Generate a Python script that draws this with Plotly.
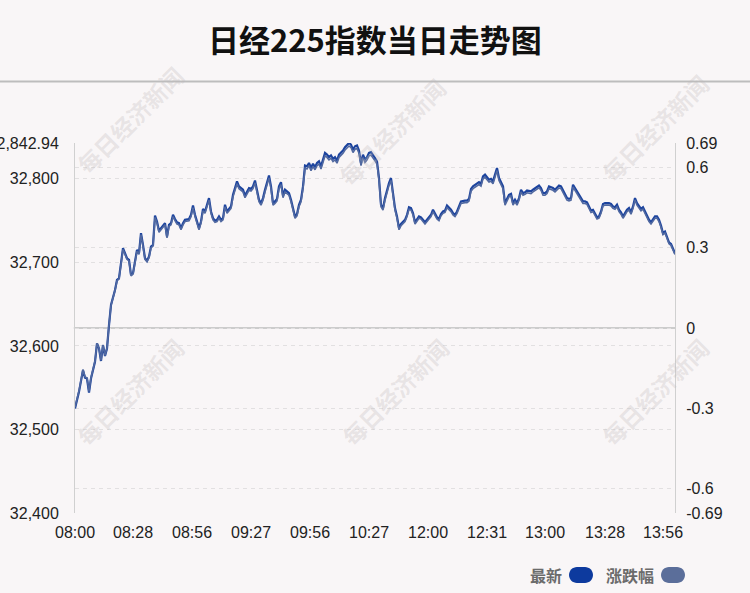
import plotly.graph_objects as go

# ---------------- data ----------------
minute_idx = [
    0, 2, 4, 5, 6, 7, 8, 10, 11, 12, 13, 14, 15, 16, 17, 18, 20, 21, 22, 23, 24, 25, 26, 27, 28, 29,
    30, 31, 32, 33, 34, 35, 36, 37, 38, 39, 40, 41, 42, 43, 44, 45, 46, 47, 48, 49, 50, 51, 52, 53,
    54, 55, 57,
    58, 59, 60, 62, 63, 64, 65, 66, 67, 68, 69, 70, 71, 72, 73, 74, 75, 76, 77, 78, 79, 80, 81, 82,
    84, 85, 86, 87, 88, 89, 90, 91, 92, 93, 94, 95, 96, 97, 98, 99, 100, 101, 102, 103, 104, 105,
    106, 107, 108, 109, 110, 111, 112, 113, 114, 115,
    116, 117, 118, 119, 120, 121, 122, 123, 124, 125, 126, 127, 128, 129, 130, 131, 132, 134, 135,
    136, 137, 138, 139, 140, 141, 142, 143, 144, 145, 146, 147, 148, 149, 150, 151, 152, 153, 154,
    155, 156, 157, 158, 159, 160, 161, 162, 163, 164, 165, 166, 167, 168, 169, 170, 171, 172, 173,
    174, 175, 176, 178,
    179, 180, 181, 182, 183, 184, 185, 186, 188, 189, 190, 191, 192, 193, 195, 196, 197, 198, 199,
    200, 201, 202, 203, 204, 205, 206, 207, 208, 209, 210, 211, 212, 213, 214, 215, 216, 217, 218,
    219, 220, 221, 222, 223, 224, 225, 226, 228, 229, 230, 231, 232, 233, 234, 235, 236, 237,
    239, 240, 241, 242, 243, 244, 245, 246, 247, 248, 249, 250, 251, 252, 253, 254, 255, 256, 257,
    258, 259, 260, 261, 262, 263, 264, 265, 267, 268, 269, 270, 271, 272, 273, 274, 275, 276, 277,
    278, 279, 280, 281, 282, 283, 284, 285, 286, 287, 288, 289, 290, 291, 292, 293, 294, 295, 296,
    297, 298, 299, 300,
]
price = [
    32525, 32545, 32571, 32562, 32561, 32544, 32561, 32581, 32603, 32597, 32582, 32601, 32588, 32597,
    32625, 32649, 32667, 32679, 32681, 32701, 32717, 32711, 32705, 32703, 32685, 32687,
    32701, 32715, 32711, 32735, 32721, 32705, 32702, 32707, 32719, 32721, 32756, 32749, 32738, 32741,
    32743, 32747, 32731, 32745, 32747, 32757, 32752, 32748, 32747, 32741, 32747, 32751, 32752,
    32757, 32768, 32757, 32741, 32749, 32764, 32761, 32769, 32777, 32761, 32753, 32750, 32751, 32755,
    32751, 32753, 32769, 32761, 32764, 32767, 32781, 32789, 32797, 32791,
    32787, 32780, 32785, 32789, 32788, 32791, 32798, 32785, 32775, 32771, 32777, 32787, 32797, 32804,
    32791, 32771, 32773, 32776, 32791, 32796, 32780, 32787,
    32785, 32783, 32775, 32763, 32755, 32758, 32769, 32775, 32791, 32816,
    32815, 32819, 32813, 32818, 32814, 32819, 32821, 32815, 32823, 32831, 32829, 32826, 32828, 32824,
    32826, 32822, 32829, 32834, 32838,
    32841, 32842.94, 32841, 32835, 32839, 32840, 32834, 32819, 32829, 32823, 32826, 32831, 32832,
    32829, 32825, 32821, 32801, 32769, 32765,
    32777, 32787, 32795, 32801, 32779, 32765, 32755, 32741, 32746, 32748, 32751, 32757, 32766, 32765,
    32759, 32748, 32751, 32755, 32754,
    32751, 32748, 32751, 32757,
    32763, 32759, 32754, 32752, 32758, 32761, 32762, 32768, 32763, 32759, 32757, 32761, 32767, 32773,
    32774, 32774, 32776, 32788, 32791,
    32793, 32794, 32796, 32794, 32803, 32805, 32802, 32799, 32800, 32797, 32805, 32813, 32801, 32795,
    32791, 32771, 32777, 32781, 32782,
    32771, 32775, 32771, 32777, 32787, 32783, 32784, 32786, 32785, 32787, 32789, 32791, 32792, 32789,
    32783, 32783, 32785, 32791,
    32789, 32787, 32790, 32792, 32791, 32786, 32781, 32777, 32776, 32777, 32793, 32789, 32785, 32781,
    32776, 32773, 32773, 32772, 32767,
    32762, 32763, 32759, 32754, 32755, 32761, 32770, 32771, 32771, 32770, 32767, 32766, 32769, 32763,
    32760, 32755, 32759, 32763, 32765,
    32760, 32767, 32777, 32771, 32768, 32764, 32766, 32761, 32755, 32751, 32748, 32751, 32755, 32755,
    32751, 32744, 32735, 32737, 32731,
    32724, 32722, 32716, 32711,
]
prev_close = 32621.47
pct_change = [(p - prev_close) / prev_close * 100 for p in price]

x_tick_index = [0, 29, 58.5, 88, 117.5, 147, 176.5, 206, 235, 265, 294]
x_tick_labels = ["08:00", "08:28", "08:56", "09:27", "09:56", "10:27",
                 "12:00", "12:31", "13:00", "13:28", "13:56"]
left_tick_vals = [32400, 32500, 32600, 32700, 32800, 32842.94]
left_tick_text = ["32,400", "32,500", "32,600", "32,700", "32,800", "32,842.94"]
right_tick_vals = [-0.69, -0.6, -0.3, 0, 0.3, 0.6, 0.69]
right_tick_text = ["-0.69", "-0.6", "-0.3", "0", "0.3", "0.6", "0.69"]

title_text = "日经225指数当日走势图"
legend_names = ["最新", "涨跌幅"]
legend_colors = ["#0d3a9e", "#5b6e9a"]
watermark = "每日经济新闻"

# ---------------- layout geometry ----------------
W, H = 750, 593
ML, MR, MT, MB = 75, 75, 143, 80
PW, PH = W - ML - MR, H - MT - MB
BG = "#f9f6f7"
NUM_FONT = "Liberation Sans, Arial, sans-serif"
CJK_FONT = "Noto Sans CJK SC, sans-serif"


def px2paper(x, y):
    return (x - ML) / PW, (H - MB - y) / PH


def pill_path(x0, y0, x1, y1):
    r = (y1 - y0) / 2.0
    k = 0.5523 * r

    def P(x, y):
        px, py = px2paper(x, y)
        return f"{px:.5f},{py:.5f}"

    d = "M" + P(x0 + r, y0)
    d += " L" + P(x1 - r, y0)
    d += " C" + P(x1 - r + k, y0) + " " + P(x1, y0 + r - k) + " " + P(x1, y0 + r)
    d += " C" + P(x1, y0 + r + k) + " " + P(x1 - r + k, y1) + " " + P(x1 - r, y1)
    d += " L" + P(x0 + r, y1)
    d += " C" + P(x0 + r - k, y1) + " " + P(x0, y0 + r + k) + " " + P(x0, y0 + r)
    d += " C" + P(x0, y0 + r - k) + " " + P(x0 + r - k, y0) + " " + P(x0 + r, y0) + " Z"
    return d


fig = go.Figure()
fig.add_trace(go.Scatter(x=minute_idx, y=price, mode="lines", name=legend_names[0],
                         line=dict(color="#1d449e", width=2.2), yaxis="y", hoverinfo="skip"))
fig.add_trace(go.Scatter(x=minute_idx, y=pct_change, mode="lines", name=legend_names[1],
                         line=dict(color="#5068a0", width=1.6), yaxis="y2", hoverinfo="skip"))

shapes = []
# zero line
shapes.append(dict(type="line", xref="paper", yref="y2", x0=-0.002, x1=1, y0=0, y1=0,
                   line=dict(color="#cccccc", width=2), layer="below"))
# separator under title
sx0, sy = px2paper(0, 81.5)
sx1, _ = px2paper(W, 81.5)
shapes.append(dict(type="line", xref="paper", yref="paper", x0=sx0, x1=sx1, y0=sy, y1=sy,
                   line=dict(color="#bdbdbd", width=2)))
# legend swatches
shapes.append(dict(type="path", xref="paper", yref="paper", path=pill_path(569, 567, 593, 583),
                   fillcolor=legend_colors[0], line=dict(width=0)))
shapes.append(dict(type="path", xref="paper", yref="paper", path=pill_path(661, 567, 685, 583),
                   fillcolor=legend_colors[1], line=dict(width=0)))

annotations = []
# title
tx, ty = px2paper(375, 38)
annotations.append(dict(text=f"<b>{title_text}</b>", xref="paper", yref="paper", x=tx, y=ty,
                        showarrow=False, xanchor="center", yanchor="middle",
                        font=dict(family=CJK_FONT, size=31, color="#111111")))
# legend text
for name, xr in zip(legend_names, [564, 656]):
    lx, ly = px2paper(xr, 575)
    annotations.append(dict(text=f"<b>{name}</b>", xref="paper", yref="paper", x=lx, y=ly,
                            showarrow=False, xanchor="right", yanchor="middle",
                            font=dict(family=CJK_FONT, size=16, color="#6b6b6b")))
# watermarks
for cx, cy in [(130, 120), (392, 132), (655, 128), (130, 392), (395, 392), (655, 392)]:
    wx, wy = px2paper(cx, cy)
    annotations.append(dict(text=f"<b>{watermark}</b>", xref="paper", yref="paper", x=wx, y=wy,
                            showarrow=False, textangle=-45, xanchor="center", yanchor="middle",
                            font=dict(family=CJK_FONT, size=23, color="rgba(190,185,186,0.30)")))

fig.update_layout(
    width=W, height=H,
    margin=dict(l=ML, r=MR, t=MT, b=MB, pad=0, autoexpand=False),
    paper_bgcolor=BG, plot_bgcolor=BG,
    showlegend=False,
    shapes=shapes,
    annotations=annotations,
    xaxis=dict(range=[0, 300], tickvals=x_tick_index, ticktext=x_tick_labels,
               showgrid=False, zeroline=False, showline=False, ticks="",
               ticklabelstandoff=8, automargin=False,
               tickfont=dict(family=NUM_FONT, size=16, color="#222222")),
    yaxis=dict(range=[32400, 32842.94], tickvals=left_tick_vals, ticktext=left_tick_text,
               showgrid=True, gridcolor="#e2e0e1", griddash="4px,4px", gridwidth=1,
               zeroline=False, showline=True, linecolor="#d0d0d0", linewidth=1,
               ticks="", ticklabelstandoff=12, automargin=False,
               tickfont=dict(family=NUM_FONT, size=16, color="#222222")),
    yaxis2=dict(range=[-0.69, 0.69], tickvals=right_tick_vals, ticktext=right_tick_text,
                overlaying="y", side="right",
                showgrid=True, gridcolor="#e2e0e1", griddash="4px,4px", gridwidth=1,
                zeroline=False, showline=True, linecolor="#d0d0d0", linewidth=1,
                ticks="", ticklabelstandoff=7, automargin=False,
                tickfont=dict(family=NUM_FONT, size=16, color="#222222")),
)

fig.write_html("out.html", config={"displayModeBar": False},
               post_script="document.body.style.margin='0px';")
